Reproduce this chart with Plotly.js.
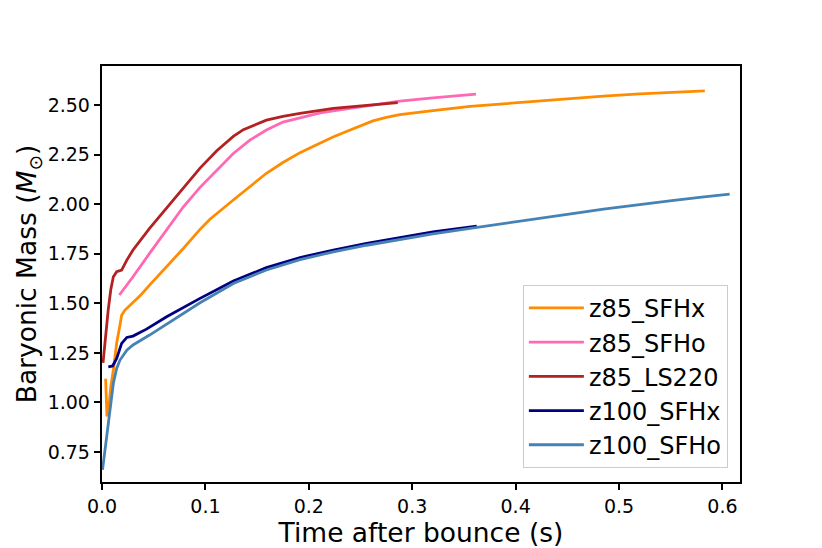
<!DOCTYPE html>
<html>
<head>
<meta charset="utf-8">
<script src="https://cdn.plot.ly/plotly-3.0.1.min.js"></script>
<style>
  html, body { margin: 0; padding: 0; background: #fff; }
  #chart { width: 822px; height: 548px; }
</style>
</head>
<body>
<div id="chart"></div>
<script>
// time after bounce (s) and baryonic mass (Msun) per model
var t_z85_SFHx = [0.0035, 0.0048, 0.0065, 0.0085, 0.011, 0.0142, 0.017, 0.019, 0.022, 0.026, 0.030, 0.038, 0.046, 0.0625, 0.0787, 0.0948, 0.1044, 0.127, 0.143, 0.159, 0.175, 0.1915, 0.2076, 0.224, 0.24, 0.262, 0.275, 0.288, 0.32, 0.356, 0.385, 0.42, 0.455, 0.485, 0.52, 0.549, 0.583];
var m_z85_SFHx = [1.12, 0.93, 0.97, 1.08, 1.164, 1.30, 1.38, 1.44, 1.465, 1.485, 1.50, 1.545, 1.592, 1.684, 1.777, 1.873, 1.924, 2.021, 2.088, 2.156, 2.21, 2.26, 2.30, 2.34, 2.374, 2.42, 2.438, 2.452, 2.472, 2.493, 2.505, 2.52, 2.534, 2.545, 2.556, 2.564, 2.572];

var t_z85_SFHo = [0.0168, 0.030, 0.046, 0.0625, 0.0787, 0.0948, 0.111, 0.127, 0.143, 0.159, 0.175, 0.191, 0.211, 0.23, 0.256, 0.288, 0.32, 0.3617];
var m_z85_SFHo = [1.542, 1.634, 1.752, 1.87, 1.987, 2.085, 2.17, 2.256, 2.323, 2.374, 2.414, 2.435, 2.46, 2.476, 2.497, 2.52, 2.536, 2.555];

var t_z85_LS220 = [0.001, 0.0029, 0.006, 0.0085, 0.011, 0.0142, 0.019, 0.024, 0.030, 0.046, 0.0625, 0.0787, 0.0948, 0.111, 0.127, 0.1367, 0.159, 0.175, 0.1915, 0.2237, 0.256, 0.286];
var m_z85_LS220 = [1.2, 1.315, 1.466, 1.57, 1.634, 1.66, 1.668, 1.718, 1.769, 1.878, 1.98, 2.08, 2.182, 2.27, 2.342, 2.376, 2.424, 2.443, 2.458, 2.483, 2.50, 2.512];

var t_z100_SFHx = [0.0061, 0.0103, 0.0142, 0.019, 0.024, 0.030, 0.043, 0.0625, 0.0948, 0.127, 0.159, 0.1915, 0.2237, 0.256, 0.288, 0.32, 0.3624];
var m_z100_SFHx = [1.18, 1.184, 1.222, 1.298, 1.328, 1.335, 1.37, 1.432, 1.525, 1.613, 1.68, 1.731, 1.769, 1.803, 1.832, 1.86, 1.89];

var t_z100_SFHo = [0.0005, 0.0013, 0.0045, 0.0077, 0.011, 0.0142, 0.0174, 0.024, 0.030, 0.046, 0.0625, 0.0948, 0.127, 0.159, 0.1915, 0.2237, 0.256, 0.288, 0.32, 0.356, 0.385, 0.42, 0.455, 0.485, 0.52, 0.549, 0.58, 0.607];
var m_z100_SFHo = [0.66, 0.693, 0.827, 0.979, 1.097, 1.172, 1.214, 1.264, 1.29, 1.34, 1.395, 1.503, 1.60, 1.668, 1.72, 1.76, 1.793, 1.822, 1.85, 1.878, 1.901, 1.928, 1.953, 1.975, 1.999, 2.017, 2.036, 2.051];

var yTicks = [0.75, 1.00, 1.25, 1.50, 1.75, 2.00, 2.25, 2.50];
var yTickText = ['0.75', '1.00', '1.25', '1.50', '1.75', '2.00', '2.25', '2.50'];
var xTicks = [0.0, 0.1, 0.2, 0.3, 0.4, 0.5, 0.6];
var xTickText = ['0.0', '0.1', '0.2', '0.3', '0.4', '0.5', '0.6'];

function line(x, y, name, color) {
    return {
        x: x, y: y, name: name, type: 'scatter', mode: 'lines',
        line: {color: color, width: 2.8}
    };
}

var data = [
    line(t_z85_SFHx, m_z85_SFHx, 'z85_SFHx', '#ff8c00'),
    line(t_z85_SFHo, m_z85_SFHo, 'z85_SFHo', '#ff69b4'),
    line(t_z85_LS220, m_z85_LS220, 'z85_LS220', '#b22222'),
    line(t_z100_SFHx, m_z100_SFHx, 'z100_SFHx', '#000080'),
    line(t_z100_SFHo, m_z100_SFHo, 'z100_SFHo', '#4682b4')
];

var axisCommon = {
    showline: true, mirror: true, linecolor: '#000', linewidth: 1.5,
    ticks: 'outside', ticklen: 6.5, tickwidth: 1.5, tickcolor: '#000',
    showgrid: false, zeroline: false,
    tickfont: {family: 'DejaVu Sans', size: 19, color: '#000'}
};

var layout = {
    width: 822, height: 548,
    margin: {l: 102, r: 82, t: 66, b: 66},
    paper_bgcolor: '#fff', plot_bgcolor: '#fff',
    font: {family: 'DejaVu Sans', color: '#000'},
    xaxis: Object.assign({}, axisCommon, {
        range: [0, 0.617],
        tickvals: xTicks, ticktext: xTickText,
        title: {text: 'Time after bounce (s)', font: {size: 26.5}}
    }),
    yaxis: Object.assign({}, axisCommon, {
        range: [0.599, 2.697],
        tickvals: yTicks, ticktext: yTickText,
        title: {text: 'Baryonic Mass (<i>M</i><sub>⊙</sub>)', font: {size: 26.5}}
    }),
    showlegend: true,
    legend: {
        x: 0.981, y: 0.034, xanchor: 'right', yanchor: 'bottom',
        bgcolor: 'rgba(255,255,255,0.8)', bordercolor: '#ccc', borderwidth: 1,
        font: {family: 'DejaVu Sans', size: 24, color: '#000'},
        itemwidth: 55,
        tracegroupgap: 0
    }
};

Plotly.newPlot('chart', data, layout, {displayModeBar: false, displaylogo: false});
</script>
</body>
</html>
